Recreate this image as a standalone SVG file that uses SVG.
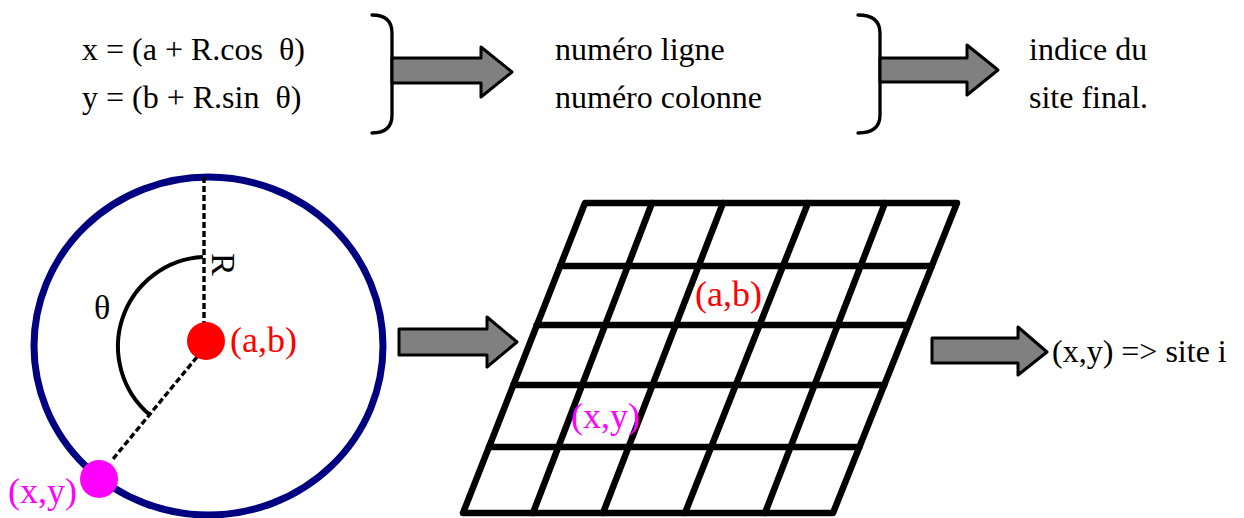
<svg xmlns="http://www.w3.org/2000/svg" width="1244" height="518" viewBox="0 0 1244 518">
<style>
text { font-family: "Liberation Serif", "Times New Roman", serif; font-size: 32px; fill: #000; white-space: pre; }
.lbl { font-size: 36px; }
.red { fill: #ff0000; }
.mag { fill: #ff00ff; }
.brace { fill: none; stroke: #000; stroke-width: 3.3; stroke-linecap: round; }
.arrow { fill: #808080; stroke: #000; stroke-width: 3; stroke-linejoin: round; }
.grid { fill: none; stroke: #000; stroke-width: 6.5; stroke-linejoin: round; stroke-linecap: round; }
.dash { stroke: #000; stroke-width: 3.4; stroke-dasharray: 6 3; fill: none; }
</style>
<rect width="1244" height="518" fill="#fff"/>

<g id="formulas">
  <text x="82" y="60">x = (a + R.cos  θ)</text>
  <text x="82" y="108">y = (b + R.sin  θ)</text>
  <path class="brace" d="M372,15 Q392,15 392,33 L392,115 Q392,133 372,133"/>
</g>

<g id="line-col">
  <text x="555" y="60">numéro ligne</text>
  <text x="555" y="108">numéro colonne</text>
  <path class="brace" d="M858,15 Q880,15 880,33 L880,115 Q880,133 858,133"/>
</g>

<g id="site-index">
  <text x="1029" y="60">indice du</text>
  <text x="1029" y="108">site final.</text>
</g>

<g id="circle">
  <ellipse cx="208.5" cy="346" rx="174.5" ry="169" fill="none" stroke="#000080" stroke-width="7"/>
  <line class="dash" x1="204" y1="177" x2="204" y2="323"/>
  <line class="dash" x1="197" y1="357" x2="113" y2="459"/>
  <path d="M203,257 A89.5,89.5 0 0 0 150,415" fill="none" stroke="#000" stroke-width="4"/>
  <text transform="translate(212,253) rotate(90)" style="font-size:34px">R</text>
  <text x="94" y="319" style="font-size:34px">θ</text>
  <circle cx="206" cy="341" r="19" fill="#ff0000"/>
  <circle cx="99" cy="479" r="19" fill="#ff00ff"/>
  <text class="lbl red" x="230" y="352">(a,b)</text>
  <text class="lbl mag" x="8" y="503">(x,y)</text>
</g>

<g id="grid">
  <path class="grid" d="M585,203 L957,203 L833,513 L463,513 Z"/>
  <path class="grid" d="M560.2,266 L931.8,266 M536.6,325 L907.8,325 M513.4,385 L884.2,385 M489,447 L859.4,447"/>
  <path class="grid" d="M652,203 L533,513 M723,203 L603,513 M808,203 L685,513 M885,203 L765,513"/>
  <text class="lbl red" x="695" y="306">(a,b)</text>
  <text class="lbl mag" x="571" y="428">(x,y)</text>
</g>

<g id="result">
  <text x="1052" y="362">(x,y) =&gt; site i</text>
</g>

<g id="connectors">
  <polygon class="arrow" points="392,58 481,58 481,47 512,72 481,97 481,83 392,83"/>
  <polygon class="arrow" points="880,58 967,58 967,45 998,70 967,95 967,82 880,82"/>
  <polygon class="arrow" points="399,329 487,329 487,317 517,342 487,367 487,355 399,355"/>
  <polygon class="arrow" points="932,338 1018,338 1018,327 1047,352 1018,375 1018,363 932,363"/>
</g>
</svg>
